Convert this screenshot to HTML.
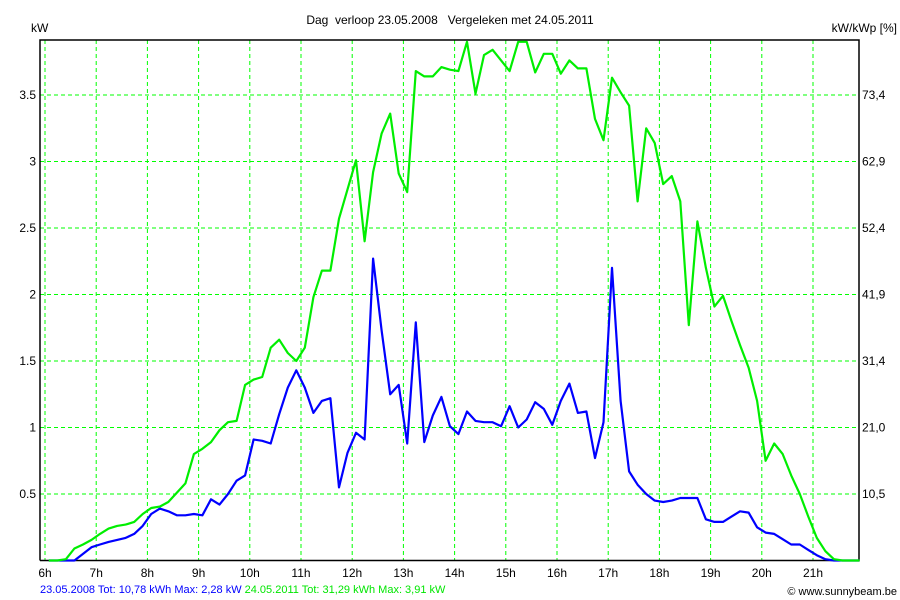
<!DOCTYPE html>
<html><head><meta charset="utf-8"><style>
body{margin:0;background:#fff;}
svg{display:block;font-family:"Liberation Sans",Arial,sans-serif;}
</style></head><body>
<svg id="chart" width="900" height="600" viewBox="0 0 900 600">
<rect width="900" height="600" fill="#fff"/>
<text x="450" y="24" text-anchor="middle" font-size="12" xml:space="preserve">Dag  verloop 23.05.2008   Vergeleken met 24.05.2011</text>
<text x="31" y="32" font-size="12">kW</text>
<text x="897" y="32" text-anchor="end" font-size="12">kW/kWp [%]</text>
<g id="grid"></g>
<g id="axes"></g>
<g id="series"></g>
<text x="40" y="593" font-size="11"><tspan fill="#0000ff">23.05.2008 Tot: 10,78 kWh Max: 2,28 kW </tspan><tspan fill="#00e600">24.05.2011 Tot: 31,29 kWh Max: 3,91 kW</tspan></text>
<text x="897" y="595" text-anchor="end" font-size="11">© www.sunnybeam.be</text>
</svg>
<script>
const hourTicks = [6,7,8,9,10,11,12,13,14,15,16,17,18,19,20,21];
const kwTicks = [0.5,1,1.5,2,2.5,3,3.5];
const pctLabels = ["10,5","21,0","31,4","41,9","52,4","62,9","73,4"];
const startMinute = 6*60+4.5;
const stepMinutes = 10;
const green2011 = [0,0,0.01,0.09,0.12,0.155,0.2,0.24,0.26,0.27,0.29,0.35,0.395,0.405,0.44,0.51,0.58,0.8,0.84,0.89,0.98,1.04,1.05,1.32,1.36,1.38,1.6,1.66,1.56,1.5,1.6,1.98,2.18,2.18,2.57,2.79,3.01,2.4,2.92,3.21,3.36,2.91,2.77,3.68,3.64,3.64,3.71,3.69,3.68,3.9,3.51,3.8,3.84,3.76,3.68,3.9,3.9,3.67,3.81,3.81,3.66,3.76,3.7,3.7,3.32,3.16,3.63,3.52,3.42,2.7,3.25,3.14,2.83,2.89,2.7,1.77,2.55,2.2,1.91,1.99,1.8,1.62,1.45,1.2,0.75,0.88,0.8,0.64,0.5,0.33,0.17,0.07,0.01,0,0,0];
const blue2008 = [0,0,0,0,0.05,0.1,0.12,0.14,0.155,0.17,0.2,0.26,0.35,0.39,0.37,0.34,0.34,0.35,0.34,0.46,0.42,0.5,0.6,0.64,0.91,0.9,0.88,1.1,1.3,1.43,1.3,1.11,1.2,1.22,0.55,0.81,0.96,0.91,2.27,1.73,1.25,1.32,0.88,1.79,0.89,1.09,1.23,1.01,0.95,1.12,1.05,1.04,1.04,1.01,1.16,1.0,1.06,1.19,1.14,1.02,1.2,1.33,1.11,1.12,0.77,1.04,2.2,1.2,0.67,0.57,0.5,0.45,0.44,0.45,0.47,0.47,0.47,0.31,0.29,0.29,0.33,0.37,0.36,0.25,0.21,0.2,0.16,0.12,0.12,0.08,0.04,0.01,0,0,0,0];

const NS="http://www.w3.org/2000/svg";
const L=40,R=859,T=40,B=560.5;
function xOfMin(m){return 45+(m-360)*51.2/60;}
function xOfHour(h){return xOfMin(h*60);}
function yOf(v){return B-v*133;}
function mk(tag,attrs,parent){const e=document.createElementNS(NS,tag);for(const k in attrs)e.setAttribute(k,attrs[k]);parent.appendChild(e);return e;}
const grid=document.getElementById('grid'),axes=document.getElementById('axes'),series=document.getElementById('series');
hourTicks.forEach(h=>{
  const x=xOfHour(h);
  const ln=mk('line',{x1:x,x2:x,y1:T,y2:B,stroke:'#00ff00','stroke-width':1,'stroke-dasharray':'4,3'},grid);
  
  
  const t=mk('text',{x:x,y:577,'text-anchor':'middle','font-size':12},axes);
  t.textContent=h+'h';
  
  
});
kwTicks.forEach((v,i)=>{
  const y=yOf(v);
  const ln=mk('line',{x1:L,x2:R,y1:y,y2:y,stroke:'#00ff00','stroke-width':1,'stroke-dasharray':'4,3'},grid);
  
  
  const t=mk('text',{x:36,y:y+4,'text-anchor':'end','font-size':12},axes);
  t.textContent=String(v);
  
  
  const t2=mk('text',{x:862,y:y+4,'font-size':12},axes);
  t2.textContent=pctLabels[i];
  
  
});
const fr=mk('path',{d:`M${L},${B}V${T}H${R}V${B}H${L}`,fill:'none',stroke:'#000','stroke-width':1.5},axes);


function draw(vals,color,name){
  const pts=vals.map((v,i)=>xOfMin(startMinute+i*stepMinutes).toFixed(1)+','+yOf(v).toFixed(1));
  const p=mk('polyline',{points:pts.join(' '),fill:'none',stroke:color,'stroke-width':2.2,'stroke-linejoin':'round'},series);
  
  
}
draw(blue2008,'#0000ff','series-2008-line');
draw(green2011,'#00ee00','series-2011-line');
</script>
</body></html>
